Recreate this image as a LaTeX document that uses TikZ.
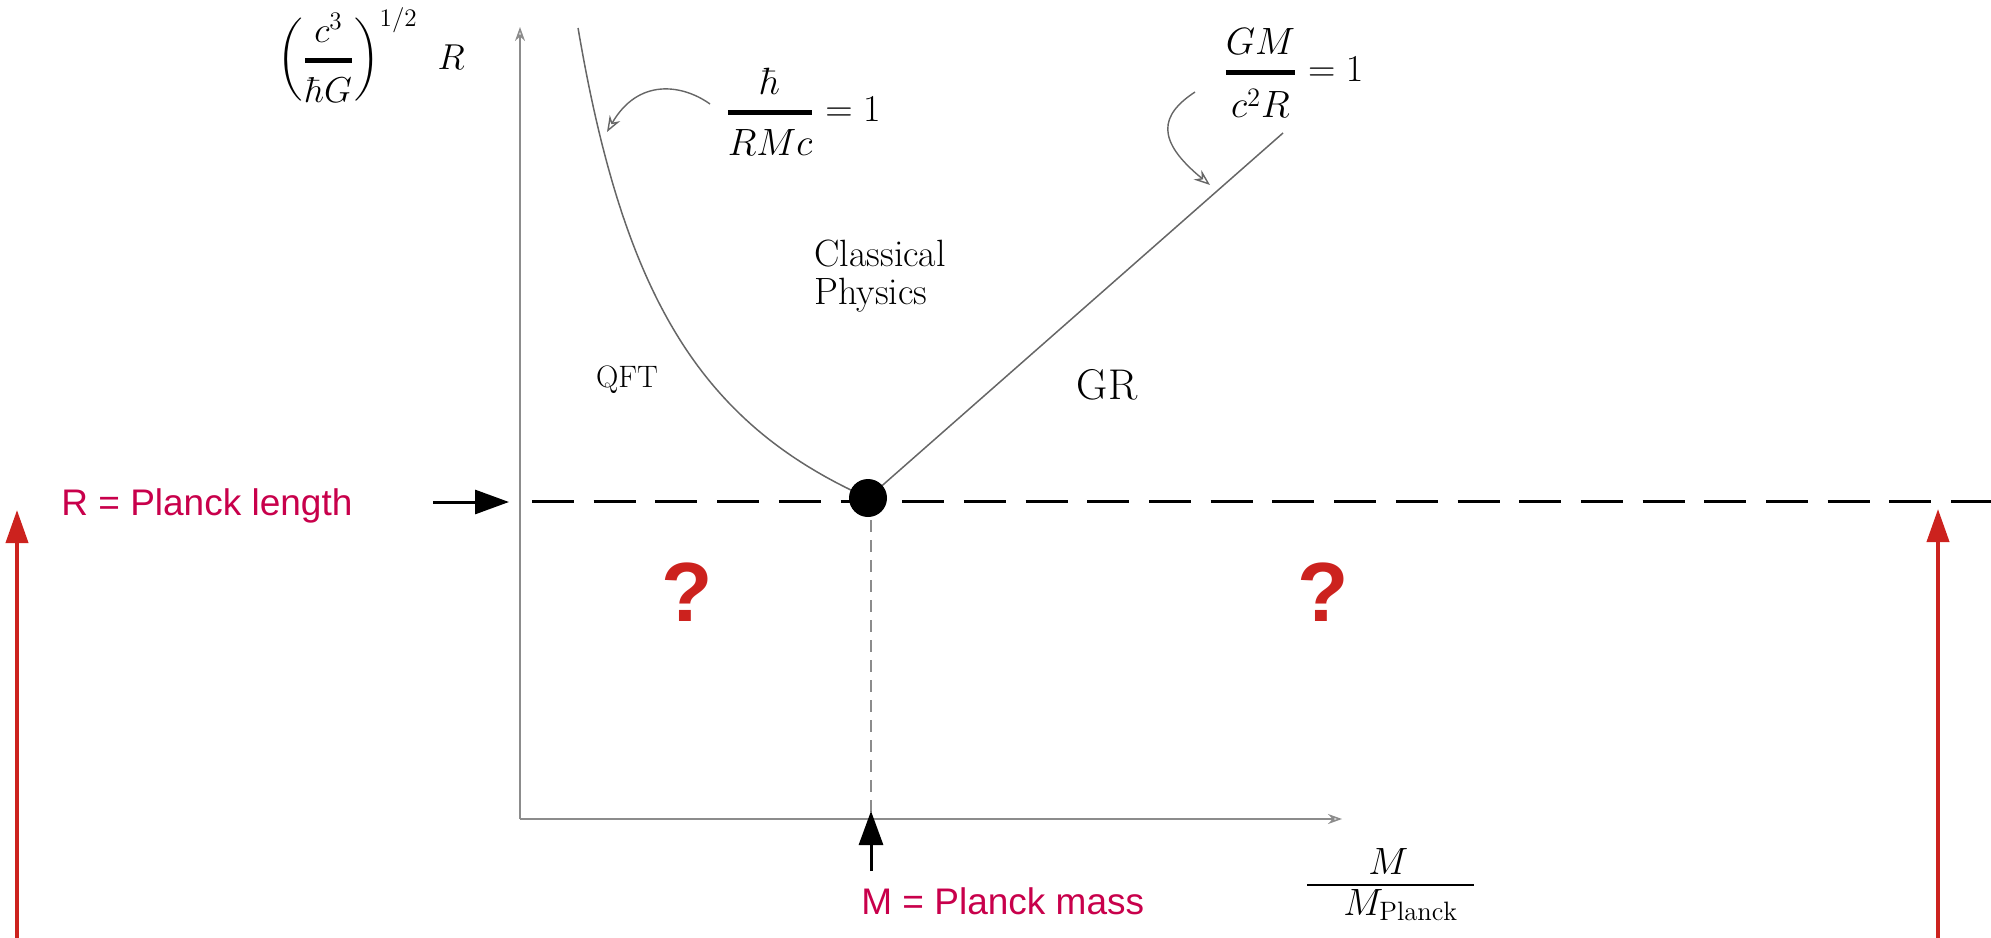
\RequirePackage{fix-cm}
\documentclass[tikz,border=0pt]{standalone}
\usepackage{amsmath}
\usepackage{fontspec}
\newfontfamily\arialf{Liberation Sans}
\usetikzlibrary{arrows.meta}
\definecolor{lblred}{RGB}{200,0,75}
\definecolor{arrred}{RGB}{204,34,30}
\begin{document}
\begin{tikzpicture}[x=0.5pt,y=-0.5pt,
  axisline/.style={draw=black!45, line width=0.8pt, -{Stealth[open,length=7pt,width=5pt]}},
  curveline/.style={draw=black!60, line width=0.75pt},
  callout/.style={draw=black!60, line width=0.7pt, -{Stealth[open,length=8pt,width=6pt]}},
  mathlbl/.style={inner sep=0pt, font=\fontsize{19}{23}\selectfont},
  textlbl/.style={inner sep=0pt, font=\fontsize{19}{19}\selectfont},
  redlbl/.style={inner sep=0pt, text=lblred, font=\arialf\fontsize{18.5}{22}\selectfont},
  qmark/.style={inner sep=0pt, text=arrred, font=\arialf\bfseries\fontsize{42}{48}\selectfont},
  redarrow/.style={draw=arrred, line width=2pt, -{Triangle[length=16.5pt,width=11pt]}},
  blkarrow/.style={draw=black, line width=1.5pt, -{Triangle[length=17pt,width=12pt]}},
  planckdash/.style={draw=black, line width=1.5pt, dash pattern=on 21pt off 9.85pt},
  massdash/.style={draw=black!45, line width=1pt, dash pattern=on 6pt off 4pt}
]
\useasboundingbox (0,0) rectangle (1991,937);

% axes
\coordinate (O) at (520,819);
\coordinate (ytop) at (520,27);
\coordinate (xend) at (1342,819);
\draw[axisline] (O) -- (ytop);
\draw[axisline] (O) -- (xend);

% Planck point
\coordinate (P) at (868,498);

% curve hbar/(RMc)=1
\draw[curveline] plot[domain=28:498, samples=90, variable=\t] ({468.2 + 71.18/(0.676 - \t/1000)}, {\t});
% GR line
\coordinate (grtop) at (1283,133);
\draw[curveline] (P) -- (grtop);

% dashed Planck length line
\coordinate (dl) at (532,501);
\coordinate (dr) at (1991,501);
\draw[planckdash] (dl) -- (dr);
% dashed Planck mass line
\coordinate (mtop) at (871,520);
\coordinate (mbot) at (871,819);
\draw[massdash] (mtop) -- (mbot);

% Planck point dot
\node[circle, fill=black, minimum size=19pt, inner sep=0pt] (dot) at (P) {};

% labels
\node[inner sep=0pt, font=\fontsize{18}{22}\selectfont, anchor=base west] (ylab) at (277,69) {$\displaystyle\biggl(\genfrac{}{}{2.5pt}{0}{c^3}{\hbar G}\biggr)^{1/2}\;\;R$};
\node[mathlbl, anchor=base west] (hlab) at (725,121.5) {$\displaystyle\genfrac{}{}{2.5pt}{0}{\hbar}{RMc}=1$};
\node[mathlbl, anchor=base west] (glab) at (1223,81.5) {$\displaystyle\genfrac{}{}{2.5pt}{0}{GM}{c^2R}=1$};

\node[textlbl, anchor=north west, align=left] (cp) at (814,240) {Classical\\Physics};
\node[inner sep=0pt, font=\fontsize{15.5}{18}\selectfont] (qft) at (627,380) {QFT};
\node[inner sep=0pt, font=\fontsize{21.5}{25}\selectfont] (gr) at (1107,385) {GR};

% x-axis label
\node[mathlbl, anchor=base west] (mnum) at (1368,874) {$M$};
\node[mathlbl, anchor=base west] (mden) at (1343,915) {$M_{\mathrm{Planck}}$};
\coordinate (barl) at (1307,885);
\coordinate (barr) at (1474,885);
\draw[black, line width=0.75pt] (barl) -- (barr);

% callout arrows
\coordinate (hs) at (710,104);
\coordinate (ht) at (607,132);
\draw[callout] (hs) .. controls (682,84) and (638,78) .. (ht);
\coordinate (gs) at (1195,92);
\coordinate (gt) at (1210,185);
\draw[callout] (gs) .. controls (1160,115) and (1155,140) .. (gt);

% red annotations
\node[redlbl, anchor=base west] (rlen) at (61,515) {R = Planck length};
\node[redlbl, anchor=base west] (rmass) at (861,914) {M = Planck mass};
\node[qmark] (q1) at (687,592) {?};
\node[qmark] (q2) at (1323,592) {?};

\coordinate (ra0) at (433,502);
\coordinate (ra1) at (509,502);
\draw[blkarrow] (ra0) -- (ra1);
\coordinate (ma0) at (871,871);
\coordinate (ma1) at (871,811);
\draw[blkarrow] (ma0) -- (ma1);

\coordinate (lr0) at (17,945);
\coordinate (lr1) at (17,510);
\draw[redarrow] (lr0) -- (lr1);
\coordinate (rr0) at (1938,945);
\coordinate (rr1) at (1938,509);
\draw[redarrow] (rr0) -- (rr1);
\end{tikzpicture}
\end{document}
